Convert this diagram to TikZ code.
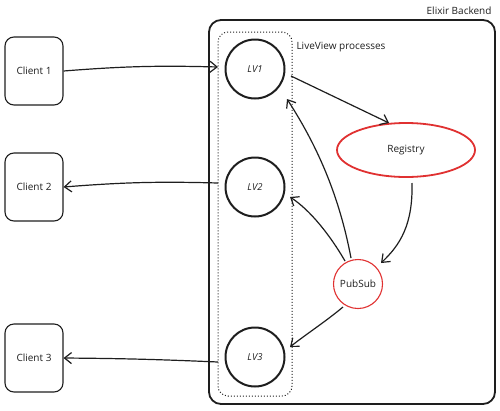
\documentclass[tikz,border=0pt]{standalone}
\usepackage{fontspec}
\setmainfont{Open Sans}
\usetikzlibrary{arrows.meta,shapes.geometric}
\definecolor{ink}{HTML}{1E1E1E}
\definecolor{redline}{HTML}{E03131}
\begin{document}
\begin{tikzpicture}[x=1pt,y=-1pt,
  client/.style={draw=ink,line width=1.1pt,rounded corners=9pt,minimum width=58pt,minimum height=68pt,font=\fontsize{10}{12}\selectfont,text=ink},
  lv/.style={draw=ink,circle,line width=2pt,minimum size=59pt,inner sep=0pt,font=\itshape\fontsize{9.5}{11}\selectfont,text=ink},
  conn/.style={draw=ink,line width=1.2pt,-{Straight Barb[length=7pt,width=11pt]}},
  lbl/.style={font=\fontsize{10}{12}\selectfont,text=ink}]
\useasboundingbox (0,0) rectangle (500,410);
% backend box
\node (backend) [draw=ink,line width=1.8pt,rounded corners=12pt,minimum width=286pt,minimum height=384pt] at (352,212) {};
\node (backendlbl) [lbl,anchor=east] at (495,11) {Elixir Backend};
% liveview dotted box
\node (lvbox) [draw=ink,line width=1pt,dotted,rounded corners=10pt,minimum width=74pt,minimum height=364pt] at (255,214) {};
\node (lvlbl) [lbl,anchor=west] at (293,47) {LiveView processes};
% clients
\node (c1) [client] at (34,71) {Client 1};
\node (c2) [client] at (34,187) {Client 2};
\node (c3) [client] at (34,358) {Client 3};
% LV nodes
\node (lv1) [lv] at (255,69) {LV1};
\node (lv2) [lv] at (255,187) {LV2};
\node (lv3) [lv] at (255,357) {LV3};
% registry and pubsub
\node (reg) [draw=redline,ellipse,line width=1.8pt,minimum width=138pt,minimum height=54pt,inner sep=0pt,lbl] at (406,150) {Registry};
\node (ps) [draw=redline,circle,line width=1.1pt,minimum size=49pt,inner sep=0pt,lbl] at (358,284) {PubSub};
% connector end points
\coordinate (c1end) at (218,67);
\coordinate (c2start) at (218,183);
\coordinate (c3start) at (218,362);
\coordinate (regstart) at (291,76);
\coordinate (regend) at (389,123);
\coordinate (lv1in) at (287,99);
\coordinate (lv2in) at (290,197);
\coordinate (lv3in) at (290,347);
\coordinate (regout) at (412,183);
\coordinate (psin) at (381,263);
\coordinate (psout1) at (351,258);
\coordinate (psout2) at (345,261);
\coordinate (psout3) at (343,307);
% connectors
\draw[conn] (c1.east) to[bend left=3] (c1end);
\draw[conn] (c2start) to[bend right=3] (c2.east);
\draw[conn] (c3start) to[bend right=1] (c3.east);
\draw[conn] (regstart) -- (regend);
\draw[conn] (psout1) .. controls (340,200) and (320,150) .. (lv1in);
\draw[conn] (psout2) .. controls (330,235) and (310,210) .. (lv2in);
\draw[conn] (regout) .. controls (413,225) and (400,245) .. (psin);
\draw[conn] (psout3) .. controls (325,322) and (305,335) .. (lv3in);
\end{tikzpicture}
\end{document}
